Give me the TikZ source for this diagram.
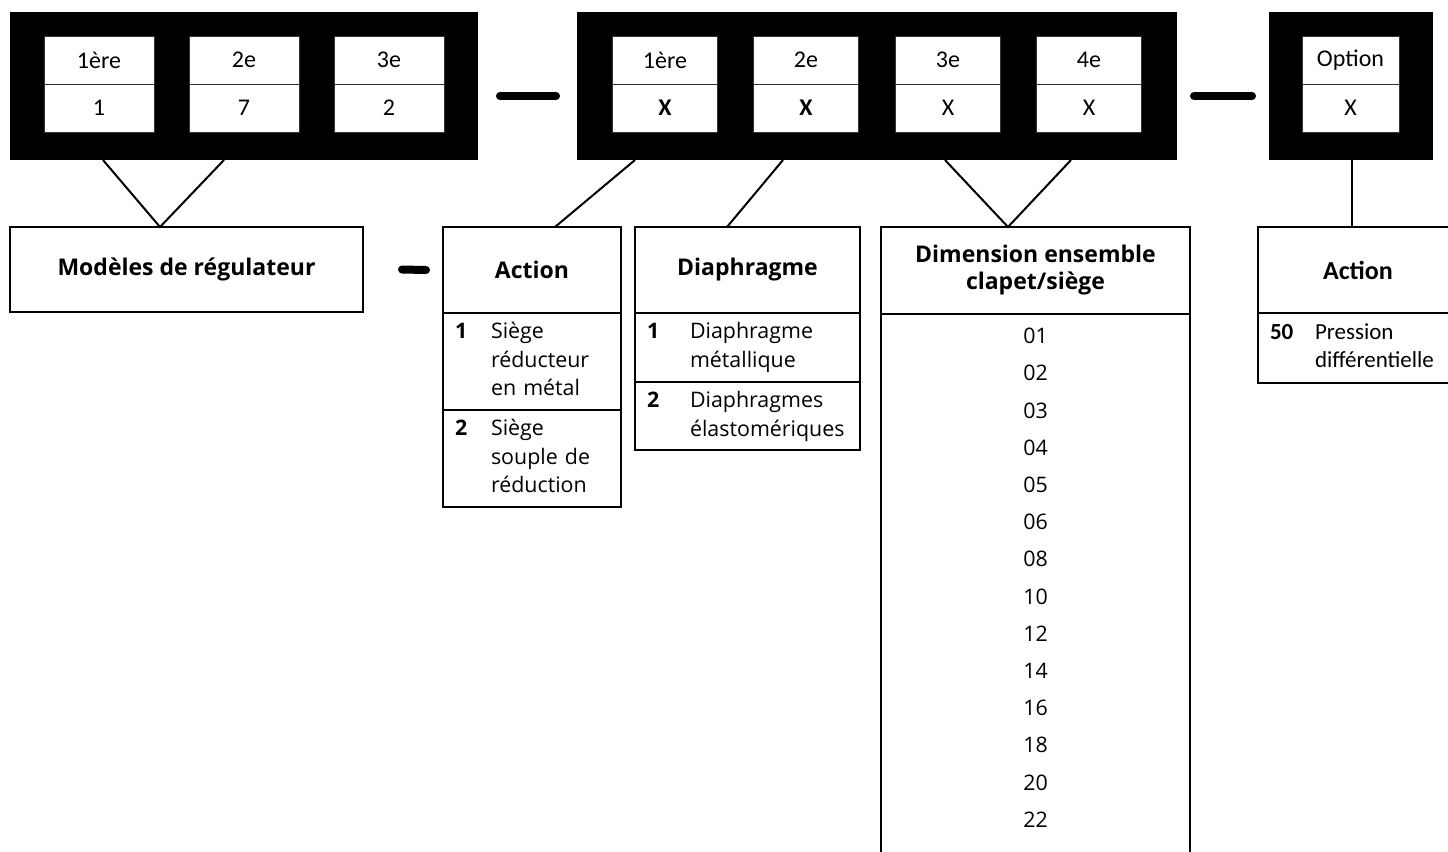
\documentclass[tikz,border=0pt]{standalone}
\usepackage{fontspec}
\setmainfont{Open Sans}
\newfontfamily\calfont{Carlito}
\usetikzlibrary{positioning, calc}

\begin{document}
\begin{tikzpicture}[
    x=0.5pt, y=-0.5pt,
    frame/.style={fill=black, inner sep=0pt, outer sep=0pt, minimum height=74pt},
    cell/.style={draw=black!80, fill=white, line width=0.5pt, minimum height=24pt,
                 inner sep=0pt, outer sep=0pt, font=\calfont\fontsize{12}{13}\selectfont},
    sepbar/.style={line width=4pt, line cap=round},
    conn/.style={line width=1pt},
    hbox/.style={draw, line width=0.6pt, minimum height=43pt, inner sep=2pt, outer sep=0pt,
                 align=center, font=\bfseries\fontsize{11.5}{13.5}\selectfont},
    rbox/.style={draw, line width=0.6pt, inner xsep=6pt, inner ysep=0pt, outer sep=0pt,
                 align=left, font=\fontsize{10.7}{14.3}\selectfont},
    dimval/.style={font=\fontsize{10.7}{12}\selectfont}
  ]
  \useasboundingbox (0,0) rectangle (1448,852);
  \clip (0,0) rectangle (1448,852);

  % code blocks
  \node[frame, minimum width=234pt] (grp1) at (244,86) {};
  \node[frame, minimum width=300pt] (grp2) at (877,86) {};
  \node[frame, minimum width=82pt] (grp3) at (1351,86) {};

  \node[cell, minimum width=55pt] (g1a) at (99,60) {1ère};
  \node[cell, minimum width=55pt, below=0pt of g1a] (g1b) {1};
  \node[cell, minimum width=55pt] (g2a) at (244,60) {2e};
  \node[cell, minimum width=55pt, below=0pt of g2a] (g2b) {7};
  \node[cell, minimum width=55pt] (g3a) at (389,60) {3e};
  \node[cell, minimum width=55pt, below=0pt of g3a] (g3b) {2};

  \node[cell, minimum width=52.5pt] (h1a) at (665,60) {1ère};
  \node[cell, minimum width=52.5pt, below=0pt of h1a] (h1b) {\textbf{X}};
  \node[cell, minimum width=52.5pt] (h2a) at (806,60) {2e};
  \node[cell, minimum width=52.5pt, below=0pt of h2a] (h2b) {\textbf{X}};
  \node[cell, minimum width=52.5pt] (h3a) at (948,60) {3e};
  \node[cell, minimum width=52.5pt, below=0pt of h3a] (h3b) {X};
  \node[cell, minimum width=52.5pt] (h4a) at (1089,60) {4e};
  \node[cell, minimum width=52.5pt, below=0pt of h4a] (h4b) {X};

  \node[cell, minimum width=48.5pt] (o1a) at (1350.5,60) {Option};
  \node[cell, minimum width=48.5pt, below=0pt of o1a] (o1b) {X};

  \draw[sepbar] ($(grp1.east)+(22,10)$) -- ($(grp2.west)+(-21,10)$);
  \draw[sepbar] ($(grp2.east)+(17,10)$) -- ($(grp3.west)+(-17,10)$);

  % descriptions
  \node[hbox, minimum width=176.5pt, minimum height=42.5pt] (model) at (186.5,269.5)
    {Modèles de régulateur};

  \node[hbox, minimum width=89pt] (act1h) at (532,270) {Action};
  \node[rbox, text width=77pt, minimum height=48.5pt, below=0pt of act1h] (act1r1)
    {\begin{tabular}{@{}p{18pt}@{}l@{}}\textbf{1} & Siège\\ & réducteur\\ & en métal\end{tabular}};
  \node[rbox, text width=77pt, minimum height=48.5pt, below=0pt of act1r1] (act1r2)
    {\begin{tabular}{@{}p{18pt}@{}l@{}}\textbf{2} & Siège\\ & souple de\\ & réduction\end{tabular}};

  \node[hbox, minimum width=112.5pt] (diah) at (747.5,270) {Diaphragme};
  \node[rbox, text width=100.5pt, minimum height=34.5pt, below=0pt of diah] (diar1)
    {\begin{tabular}{@{}p{21.5pt}@{}l@{}}\textbf{1} & Diaphragme\\ & métallique\end{tabular}};
  \node[rbox, text width=100.5pt, minimum height=34pt, below=0pt of diar1] (diar2)
    {\begin{tabular}{@{}p{21.5pt}@{}l@{}}\textbf{2} & Diaphragmes\\ & élastomériques\end{tabular}};

  \node[hbox, minimum width=154.5pt, minimum height=43.5pt] (dimh) at (1035.5,270.5)
    {Dimension ensemble\\clapet/siège};
  \node[rbox, minimum width=154.5pt, minimum height=283pt, below=0pt of dimh] (dimb) {};
  \foreach \v [count=\i from 0] in {01,02,03,04,05,06,08,10,12,14,16,18,20,22}
    \node[dimval] (dv\v) at ($(dimh.south)+(0,{22+37.2*\i})$) {\v};

  \node[hbox, minimum width=100pt, font=\calfont\bfseries\fontsize{13}{15}\selectfont]
    (act2h) at (1358,270) {Action};
  \node[rbox, text width=88pt, minimum height=35pt, below=0pt of act2h,
        font=\calfont\fontsize{11.5}{14}\selectfont] (act2r1)
    {\begin{tabular}{@{}p{22.5pt}@{}l@{}}\textbf{50} & Pression\\ & différentielle\end{tabular}};

  \draw[sepbar] ($(model.east)+(39,0)$) -- ($(act1h.west)+(-17,0)$);

  % connectors
  \draw[conn] ($(grp1.south west)+(93,0)$) -- ($(model.north west)+(150,0)$)
    -- ($(grp1.south west)+(214,0)$);
  \draw[conn] ($(grp2.south west)+(58,0)$) -- ($(act1h.north west)+(112,0)$);
  \draw[conn] ($(grp2.south west)+(206,0)$) -- ($(diah.north west)+(92,0)$);
  \draw[conn] ($(grp2.south west)+(368,0)$) -- ($(dimh.north west)+(127,0)$)
    -- ($(grp2.south west)+(494,0)$);
  \draw[conn] ($(grp3.south west)+(83,0)$) -- ($(act2h.north west)+(94,0)$);
\end{tikzpicture}
\end{document}
